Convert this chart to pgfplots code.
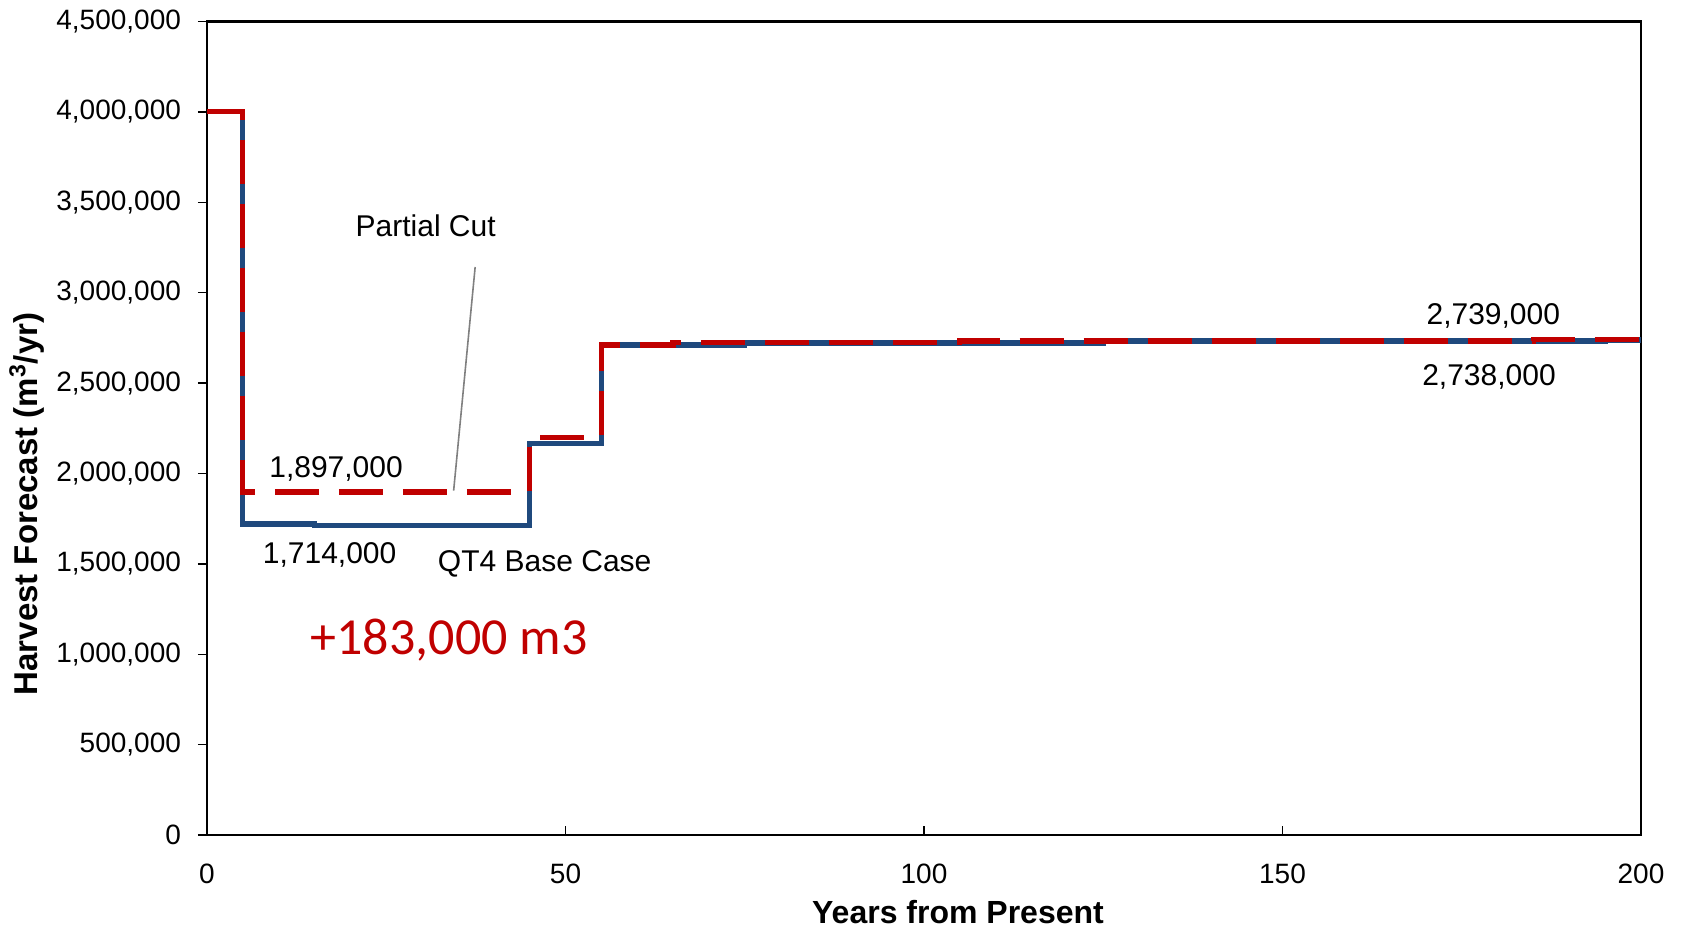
\documentclass[border=0pt]{standalone}
\usepackage{pgfplots}
\pgfplotsset{compat=1.18}
\usepackage{fontspec}
\setmainfont{Liberation Sans}
\newfontfamily\calib{Carlito}
\definecolor{cutred}{RGB}{192,0,0}
\definecolor{baseblue}{RGB}{31,73,125}
\begin{document}
\begin{tikzpicture}
\begin{axis}[
  name=ax,
  scale only axis,
  width=717pt, height=406.75pt,
  xmin=0, xmax=200, ymin=0, ymax=4500000,
  xtick={0,50,...,200},
  ytick={0,500000,...,4500000},
  axis line style={line width=1.3pt},
  every tick/.style={black, line width=0.7pt},
  major tick length=4.5pt,
  ytick pos=left, xtick pos=bottom,
  ytick align=outside, xtick align=inside,
  tick label style={font=\fontsize{14}{16}\selectfont},
  /pgf/number format/assume math mode=true,
  scaled y ticks=false,
  yticklabel={\pgfmathprintnumber[fixed,1000 sep={,}]{\tick}},
  yticklabel style={xshift=-5pt},
  xticklabel style={yshift=-11pt},
  clip=false,
]
% QT4 Base Case
\addplot[const plot, baseblue, line width=2.6pt] coordinates {
(0,4000000) (5,1720000) (15,1714000) (45,2165000) (55,2710000) (75,2722000) (125,2733000) (195,2738000) (200,2738000)
};
% Partial Cut
\addplot[const plot, cutred, line width=2.6pt, dash pattern=on 22pt off 10pt] coordinates {
(0,4000000) (5,1897000) (45,2200000) (55,2710000) (65,2725000) (105,2733000) (185,2739000) (200,2739000)
};
\draw[gray, line width=0.8pt] (axis cs:37.4,3142000) -- (axis cs:34.4,1905000);
\node[font=\fontsize{15}{17}\selectfont] at (axis cs:30.5,3369000) {Partial Cut};
\node[font=\fontsize{15}{17}\selectfont] at (axis cs:18.0,2024600) {1,897,000};
\node[font=\fontsize{15}{17}\selectfont] at (axis cs:17.1,1548900) {1,714,000};
\node[font=\fontsize{15}{17}\selectfont] at (axis cs:47.1,1501900) {QT4 Base Case};
\node[font=\calib\fontsize{26}{30}\selectfont, text=cutred] at (axis cs:33.75,1078700) {+183,000 m3};
\node[font=\fontsize{15}{17}\selectfont] at (axis cs:179.4,2873800) {2,739,000};
\node[font=\fontsize{15}{17}\selectfont] at (axis cs:178.8,2535200) {2,738,000};
\end{axis}
\node[rotate=90, font=\bfseries\fontsize{16.5}{19}\selectfont] at ([shift={(-90pt,165.5pt)}]ax.south west) {Harvest Forecast (m\textsuperscript{3}/yr)};
\node[anchor=base, font=\bfseries\fontsize{16}{19}\selectfont] at ([shift={(375.5pt,-44.5pt)}]ax.south west) {Years from Present};
\pgfresetboundingbox
\path[use as bounding box] ([shift={(-103.5pt,-47pt)}]ax.south west) rectangle ([shift={(21pt,10.75pt)}]ax.north east);
\end{tikzpicture}
\end{document}
